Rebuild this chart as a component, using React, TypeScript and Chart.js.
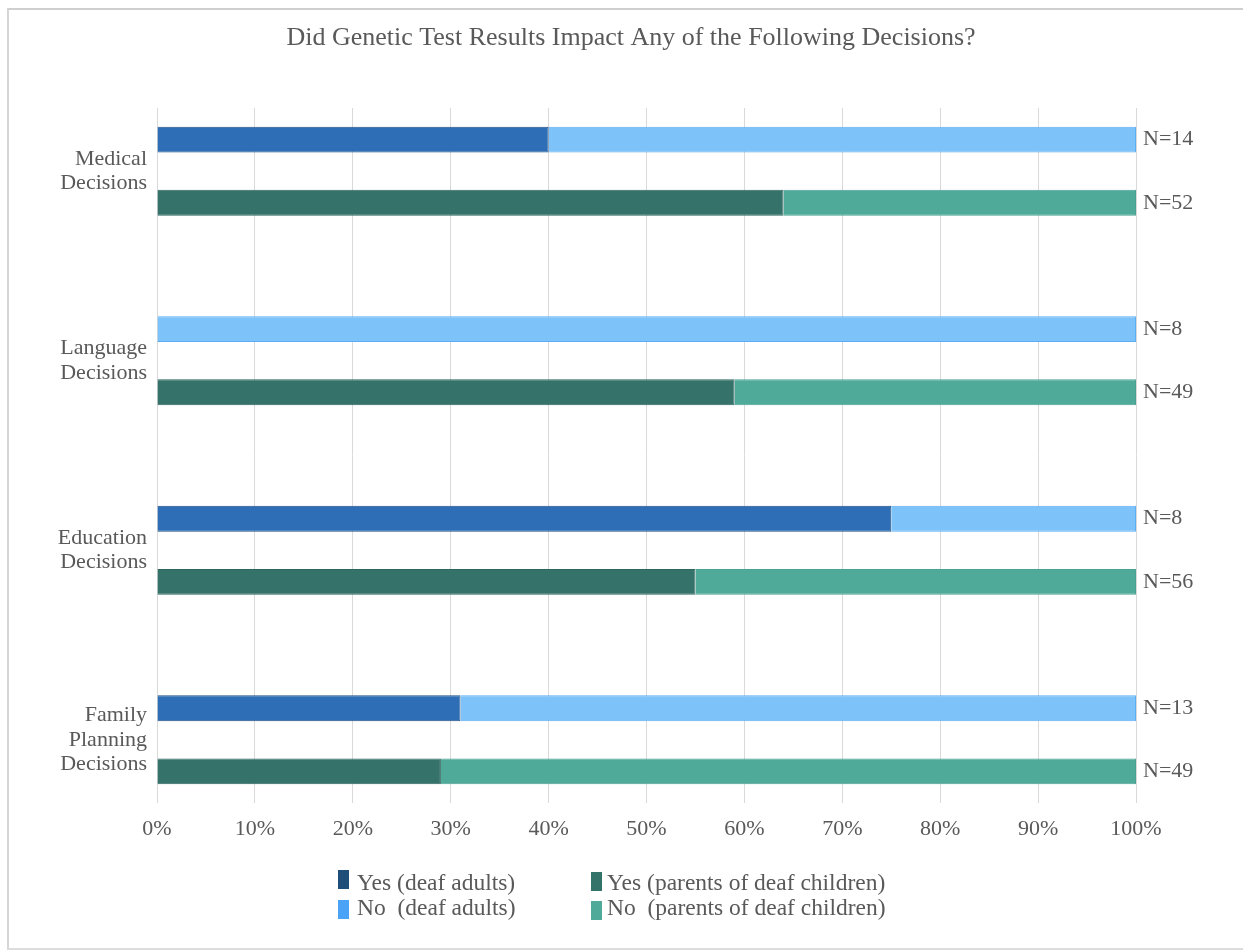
import { useEffect, useRef } from "react";
import { Chart, registerables } from "chart.js";

Chart.register(...registerables);

// Decision categories (multi-line axis labels)
const categories: string[][] = [
  ["Medical", "Decisions"],
  ["Language", "Decisions"],
  ["Education", "Decisions"],
  ["Family", "Planning", "Decisions"],
];

// Percent of respondents per category
const adultsYes = [40, 0, 75, 31];
const adultsNo = [60, 100, 25, 69];
const parentsYes = [64, 59, 55, 29];
const parentsNo = [36, 41, 45, 71];

// Sample sizes shown at the end of each bar
const adultsN = [14, 8, 8, 13];
const parentsN = [52, 49, 56, 49];

const TITLE = "Did Genetic Test Results Impact Any of the Following Decisions?";
const FONT = '"Liberation Serif", "Times New Roman", serif';
const TEXT = "#595959";
const GRID = "#d9d9d9";

const legendItems = [
  { label: "Yes (deaf adults)", color: "#1f4e79", left: 338, top: 870, textLeft: 357, textTop: 882 },
  { label: "No  (deaf adults)", color: "#4ba3f7", left: 338, top: 900, textLeft: 357, textTop: 907 },
  { label: "Yes (parents of deaf children)", color: "#33736a", left: 591, top: 872, textLeft: 607, textTop: 882 },
  { label: "No  (parents of deaf children)", color: "#4faa9a", left: 591, top: 901, textLeft: 607, textTop: 907 },
];

// Each category takes three rows: deaf adults, parents, then a blank spacer row
const rowOf = (cat: number, group: number) => cat * 3 + group;
const toPoints = (vals: number[], group: number) =>
  vals.map((v, i) => ({ x: v, y: rowOf(i, group) }));

export default function App() {
  const canvasRef = useRef<HTMLCanvasElement | null>(null);

  useEffect(() => {
    const canvas = canvasRef.current;
    if (!canvas) return;

    const titlePlugin = {
      id: "titleText",
      beforeDraw(chart: any) {
        const ctx = chart.ctx;
        ctx.save();
        ctx.font = `26px ${FONT}`;
        ctx.fillStyle = TEXT;
        ctx.textAlign = "center";
        ctx.textBaseline = "middle";
        ctx.fillText(TITLE, 631, 38);
        ctx.restore();
      },
    };

    const sampleSizePlugin = {
      id: "sampleSizes",
      afterDatasetsDraw(chart: any) {
        const ctx = chart.ctx;
        const right = chart.chartArea.right;
        ctx.save();
        ctx.font = `22px ${FONT}`;
        ctx.fillStyle = TEXT;
        ctx.textAlign = "left";
        ctx.textBaseline = "middle";
        const draw = (dsIndex: number, counts: number[]) => {
          const meta = chart.getDatasetMeta(dsIndex);
          meta.data.forEach((el: any, i: number) => {
            ctx.fillText(`N=${counts[i]}`, right + 7, el.y);
          });
        };
        draw(1, adultsN);
        draw(3, parentsN);
        ctx.restore();
      },
    };

    const chart = new Chart(canvas, {
      type: "bar",
      data: {
        datasets: [
          {
            label: "Yes (deaf adults)",
            data: toPoints(adultsYes, 0),
            backgroundColor: "#2d6eb6",
            borderColor: "#1f4f82",
            borderWidth: 1,
          },
          {
            label: "No (deaf adults)",
            data: toPoints(adultsNo, 0),
            backgroundColor: "#7dc3fa",
            borderColor: "#5aaef3",
            borderWidth: 1,
          },
          {
            label: "Yes (parents of deaf children)",
            data: toPoints(parentsYes, 1),
            backgroundColor: "#34726a",
            borderColor: "#2d665e",
            borderWidth: 1,
          },
          {
            label: "No (parents of deaf children)",
            data: toPoints(parentsNo, 1),
            backgroundColor: "#4faa9a",
            borderColor: "#49a191",
            borderWidth: 1,
          },
        ],
      },
      options: {
        indexAxis: "y",
        animation: false,
        responsive: false,
        maintainAspectRatio: false,
        datasets: {
          bar: { categoryPercentage: 1, barPercentage: 0.41 },
        },
        layout: { padding: { top: 108, right: 107, bottom: 97, left: 0 } },
        plugins: {
          legend: { display: false },
          title: { display: false },
          tooltip: { enabled: false },
        },
        scales: {
          x: {
            type: "linear",
            stacked: true,
            min: 0,
            max: 100,
            grid: { color: GRID, lineWidth: 1, drawTicks: false },
            border: { display: false },
            ticks: {
              stepSize: 10,
              padding: 13,
              color: TEXT,
              font: { family: FONT, size: 22 },
              callback: (v: any) => `${v}%`,
            },
            afterFit: (scale: any) => {
              scale.height = 50;
            },
          },
          y: {
            type: "linear",
            stacked: true,
            reverse: true,
            offset: false,
            min: -0.5,
            max: rowOf(categories.length - 1, 1) + 0.5,
            grid: { display: false },
            border: { display: false },
            afterBuildTicks: (scale: any) => {
              scale.ticks = categories.map((_, i) => ({ value: rowOf(i, 0) + 0.5 }));
            },
            ticks: {
              padding: 2,
              color: TEXT,
              autoSkip: false,
              font: { family: FONT, size: 22, lineHeight: 1.1 },
              callback: (v: any) => categories[Math.round((Number(v) - 0.5) / 3)] ?? "",
            },
            afterFit: (scale: any) => {
              scale.width = 157;
            },
          },
        },
      } as any,
      plugins: [titlePlugin, sampleSizePlugin],
    });

    return () => chart.destroy();
  }, []);

  return (
    <div
      style={{
        position: "absolute",
        left: 0,
        top: 0,
        width: 1243,
        height: 950,
        overflow: "hidden",
        background: "#ffffff",
      }}
    >
      <div
        style={{
          position: "absolute",
          left: 7,
          top: 8,
          width: 1260,
          height: 938,
          borderTop: "2px solid #cfcfcf",
          borderLeft: "2px solid #d6d6d6",
          borderBottom: "2px solid #dcdcdc",
        }}
      />
      <canvas
        ref={canvasRef}
        width={1243}
        height={950}
        style={{ position: "absolute", left: 0, top: 0, width: 1243, height: 950 }}
      />
      {legendItems.map((item) => (
        <div key={item.label}>
          <div
            style={{
              position: "absolute",
              left: item.left,
              top: item.top,
              width: 11,
              height: 19,
              background: item.color,
            }}
          />
          <div
            style={{
              position: "absolute",
              left: item.textLeft,
              top: item.textTop - 14,
              height: 28,
              lineHeight: "28px",
              fontFamily: FONT,
              fontSize: 23.5,
              color: TEXT,
              whiteSpace: "pre",
            }}
          >
            {item.label}
          </div>
        </div>
      ))}
    </div>
  );
}
